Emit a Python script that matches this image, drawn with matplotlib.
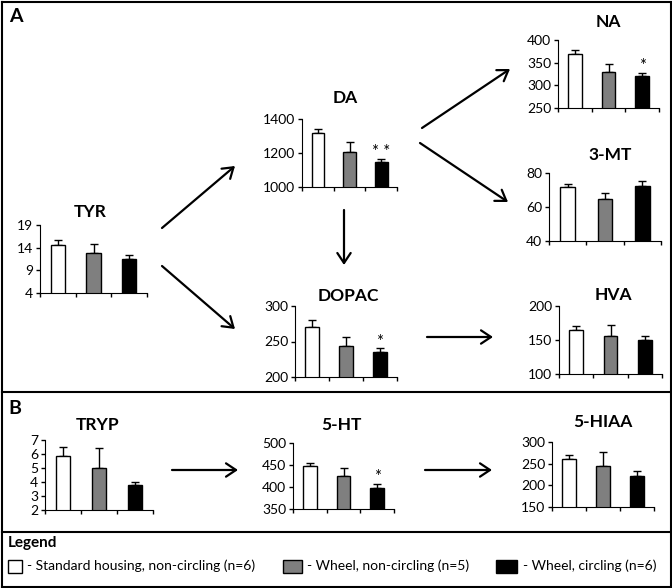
import matplotlib
matplotlib.use('Agg')
import matplotlib.pyplot as plt
from matplotlib.patches import FancyArrowPatch, Rectangle
from matplotlib.lines import Line2D

plt.rcParams['font.family'] = ['Lato', 'DejaVu Sans']

W, H = 672, 588

# group colours: standard housing, wheel non-circling, wheel circling
colors = ['#ffffff', '#7f7f7f', '#000000']
legend_labels = ['- Standard housing, non-circling (n=6)',
                 '- Wheel, non-circling (n=5)',
                 '- Wheel, circling (n=6)']

tyr_vals = [14.6, 12.9, 11.5]
tyr_err = [1.1, 2.0, 0.8]
da_vals = [1318, 1204, 1145]
da_err = [23, 61, 20]
dopac_vals = [270.6, 243.5, 235.4]
dopac_err = [9.2, 13.2, 5.2]
na_vals = [370, 329, 321]
na_err = [8, 18, 7]
mt_vals = [71.8, 64.9, 72.5]
mt_err = [2.0, 3.5, 2.9]
hva_vals = [164.5, 155.5, 150.5]
hva_err = [5.5, 16.5, 6.0]
tryp_vals = [5.85, 4.98, 3.8]
tryp_err = [0.62, 1.42, 0.22]
ht_vals = [447, 424, 397]
ht_err = [7, 19, 10]
hiaa_vals = [260, 245, 221]
hiaa_err = [11, 33, 11]

tyr_ticks = [4, 9, 14, 19]
da_ticks = [1000, 1200, 1400]
dopac_ticks = [200, 250, 300]
na_ticks = [250, 300, 350, 400]
mt_ticks = [40, 60, 80]
hva_ticks = [100, 150, 200]
tryp_ticks = [2, 3, 4, 5, 6, 7]
ht_ticks = [350, 400, 450, 500]
hiaa_ticks = [150, 200, 250, 300]

da_stars = ['', '', '* *']
dopac_stars = ['', '', '*']
na_stars = ['', '', '*']
ht_stars = ['', '', '*']
no_stars = ['', '', '']


def fx(x):
    return x / W


def fy(y):
    return 1 - y / H


def panel(fig, box, title, tpos, vals, err, ticks, stars):
    l, r, t, b = box
    ax = fig.add_axes([fx(l), fy(b), (r - l) / W, (b - t) / H])
    x = range(3)
    ax.bar(x, vals, width=0.4, color=colors, edgecolor='black', linewidth=1,
           zorder=2)
    ax.errorbar(x, vals, yerr=[[0, 0, 0], err], fmt='none', ecolor='black',
                elinewidth=1, capsize=3, capthick=1, zorder=1)
    for i in x:
        if stars[i]:
            ax.annotate(stars[i], (i, vals[i] + err[i]), xytext=(0, -1),
                        textcoords='offset points', ha='center', va='bottom',
                        fontsize=12)
    ax.set_ylim(ticks[0], ticks[-1])
    ax.set_xlim(-0.5, 2.5)
    ax.set_yticks(ticks)
    ax.set_yticklabels([str(v) for v in ticks], fontsize=10)
    ax.set_xticks([-0.5, 0.5, 1.5, 2.5])
    ax.set_xticklabels([])
    ax.spines['top'].set_visible(False)
    ax.spines['right'].set_visible(False)
    ax.tick_params(axis='both', direction='out', length=3, width=1, pad=2)
    ax.set_facecolor('none')
    fig.text(fx(tpos[0]), fy(tpos[1]), title, ha='center', va='center',
             fontsize=12.5, fontweight='bold')
    return ax


def arrow(fig, p0, p1):
    a = FancyArrowPatch((fx(p0[0]), fy(p0[1])), (fx(p1[0]), fy(p1[1])),
                        transform=fig.transFigure,
                        arrowstyle='->,head_length=0.6,head_width=0.4',
                        mutation_scale=12, lw=1.6, color='black',
                        shrinkA=0, shrinkB=0)
    fig.patches.append(a)


fig = plt.figure(figsize=(W / 100, H / 100), dpi=100)

# section A
panel(fig, (40, 147, 225, 293), 'TYR', (90, 212), tyr_vals, tyr_err, tyr_ticks, no_stars)
panel(fig, (302, 397, 119, 187), 'DA', (345, 98), da_vals, da_err, da_ticks, da_stars)
panel(fig, (295, 397, 306, 377), 'DOPAC', (348, 296), dopac_vals, dopac_err, dopac_ticks, dopac_stars)
panel(fig, (558, 659, 40, 108), 'NA', (608, 22), na_vals, na_err, na_ticks, na_stars)
panel(fig, (549, 661, 173, 241), '3-MT', (610, 155), mt_vals, mt_err, mt_ticks, no_stars)
panel(fig, (559, 662, 306, 374), 'HVA', (613, 295), hva_vals, hva_err, hva_ticks, no_stars)

# section B
panel(fig, (45, 153, 440, 510), 'TRYP', (98, 425), tryp_vals, tryp_err, tryp_ticks, no_stars)
panel(fig, (293, 394, 443, 509), '5-HT', (341, 425), ht_vals, ht_err, ht_ticks, ht_stars)
panel(fig, (552, 654, 442, 507), '5-HIAA', (603, 422), hiaa_vals, hiaa_err, hiaa_ticks, no_stars)

# pathway arrows
arrow(fig, (162, 228), (235, 166))
arrow(fig, (162, 266), (235, 329))
arrow(fig, (344, 210), (344, 265))
arrow(fig, (422, 128), (510, 69))
arrow(fig, (420, 143), (508, 202))
arrow(fig, (427, 337), (493, 337))
arrow(fig, (172, 470), (238, 470))
arrow(fig, (425, 470), (492, 470))

# frame and section separators
for seg in [((1.5, 1.5), (670.5, 1.5)), ((1.5, 586.5), (670.5, 586.5)),
            ((1.5, 1.5), (1.5, 586.5)), ((670.5, 1.5), (670.5, 586.5)),
            ((1.5, 392), (670.5, 392)), ((1.5, 532), (670.5, 532))]:
    (x0, y0), (x1, y1) = seg
    fig.add_artist(Line2D([fx(x0), fx(x1)], [fy(y0), fy(y1)], color='black', lw=1.5))

fig.text(fx(9), fy(17), 'A', fontsize=14, fontweight='bold', va='center')
fig.text(fx(8), fy(409), 'B', fontsize=14, fontweight='bold', va='center')
fig.text(fx(8), fy(543), 'Legend', fontsize=11, fontweight='bold', va='center')

# legend boxes
box_x = [8, 283, 496]
box_w = [14, 19, 21]
text_x = [27, 307, 523]
for i in range(3):
    fig.add_artist(Rectangle((fx(box_x[i]), fy(573)), box_w[i] / W, 13 / H,
                             transform=fig.transFigure, facecolor=colors[i],
                             edgecolor='black', lw=1))
    fig.text(fx(text_x[i]), fy(566), legend_labels[i], fontsize=10, va='center')

fig.savefig('out.png', dpi=100)
